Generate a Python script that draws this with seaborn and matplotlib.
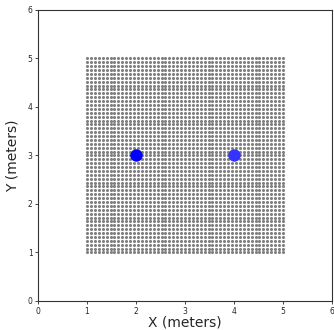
import numpy as np
import pandas as pd
import matplotlib
matplotlib.use("Agg")
import matplotlib.pyplot as plt
import seaborn as sns

# grid of candidate positions, 0.08 m spacing from 1 to 5 m
grid_x = np.round(np.arange(1.0, 5.0001, 0.08), 2)
grid_y = np.round(np.arange(1.0, 5.0001, 0.08), 2)

# source positions
src_x = [2, 4]
src_y = [3, 3]
src_colors = ["#0000ff", "#3434ff"]

gx, gy = np.meshgrid(grid_x, grid_y)
grid = pd.DataFrame({"x": gx.ravel(), "y": gy.ravel()})

sns.set_style("ticks")
plt.rcParams["font.family"] = ["DejaVu Sans"]

fig = plt.figure(figsize=(3.34, 3.30), dpi=100)
ax = fig.add_axes([0.114, 0.088, 0.88, 0.882])

sns.scatterplot(data=grid, x="x", y="y", ax=ax, color="gray", s=5,
                linewidth=0, legend=False)
for x, y, c in zip(src_x, src_y, src_colors):
    sns.scatterplot(x=[x], y=[y], ax=ax, color=c, s=80, linewidth=0,
                    legend=False, zorder=3)

ax.set_xlim(0, 6)
ax.set_ylim(0, 6)
ax.set_xticks(range(7))
ax.set_yticks(range(7))
ax.tick_params(labelsize=5.5, length=2.5, width=0.6, pad=1.5)
for sp in ax.spines.values():
    sp.set_linewidth(0.8)
    sp.set_color("#333333")
ax.set_xlabel("X (meters)", fontsize=10, labelpad=0)
ax.set_ylabel("Y (meters)", fontsize=10, labelpad=6)

fig.savefig("out.png", dpi=100)
